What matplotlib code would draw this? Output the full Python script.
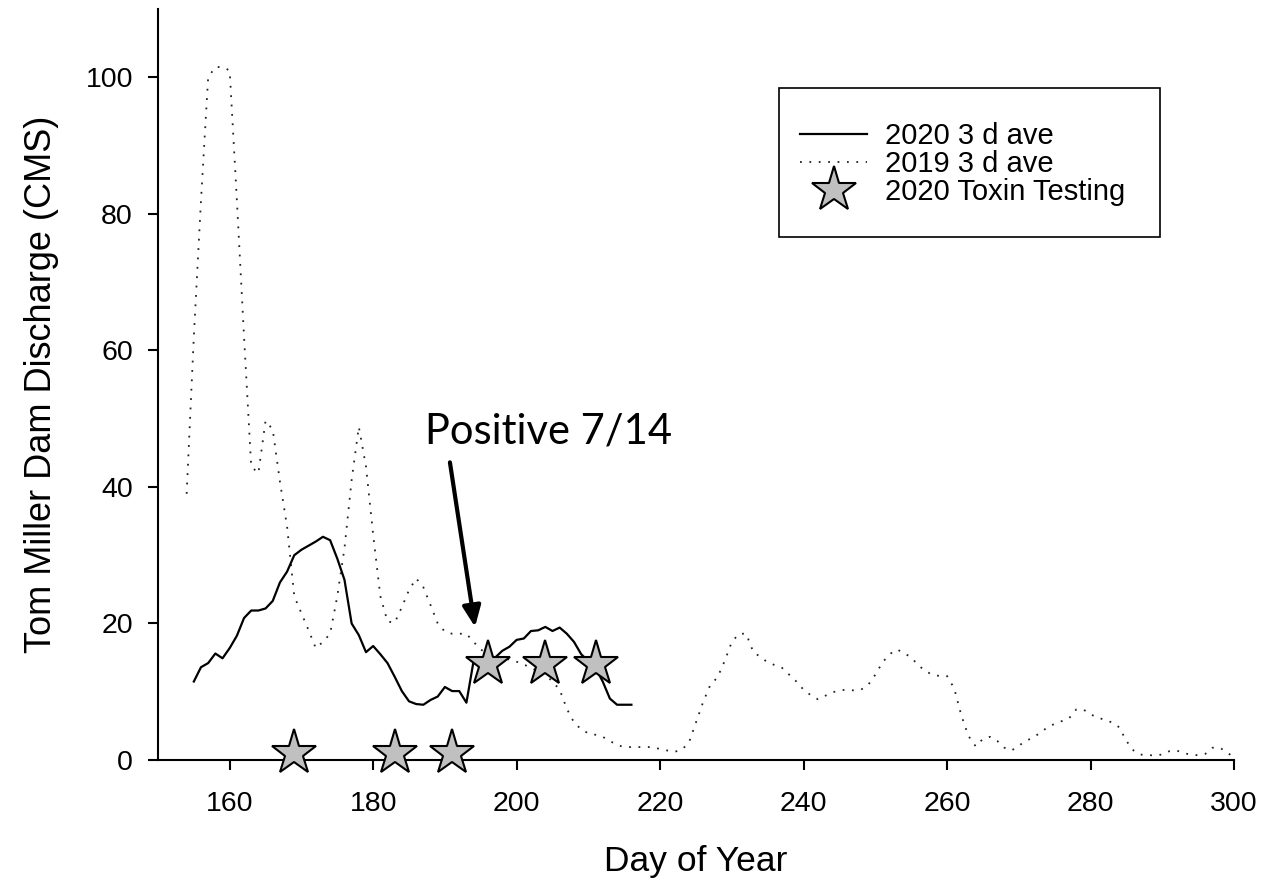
import matplotlib.pyplot as plt
import numpy as np
from matplotlib.patches import Rectangle

plt.rcParams['font.family'] = ['Liberation Sans', 'DejaVu Sans']

# 3-day average discharge, 2020 (day 155-216)
days_2020 = np.arange(155, 217)
q_2020 = [11.5, 13.6, 14.2, 15.6, 14.9, 16.4, 18.2, 20.8, 21.9, 21.9,
          22.2, 23.3, 26.0, 27.6, 30.0, 30.8, 31.4, 32.0, 32.7, 32.2,
          29.5, 26.4, 20.0, 18.3, 15.8, 16.7, 15.5, 14.2, 12.2, 10.1,
          8.6, 8.2, 8.1, 8.8, 9.3, 10.7, 10.1, 10.1, 8.4, 14.5,
          14.5, 15.0, 15.0, 16.0, 16.6, 17.6, 17.8, 18.9, 19.0, 19.5,
          18.9, 19.4, 18.5, 17.3, 15.5, 14.5, 13.5, 11.5, 9.0, 8.1,
          8.1, 8.1]

# 3-day average discharge, 2019 (day 154-300)
days_2019 = np.arange(154, 301)
q_2019 = [39, 62, 82, 100, 101.5, 101.5, 101, 82, 62, 43,
          42, 49.7, 48.4, 40.8, 34.2, 24, 21.5, 19, 16.4, 17.3,
          18.5, 24, 31, 41, 48.8, 43, 33, 24, 20.3, 20.1,
          22.4, 24.9, 26.6, 25.3, 22.7, 20.0, 18.8, 18.5, 18.5, 18.5,
          17.3, 16.2, 15.5, 15.2, 15.0, 14.7, 14.4, 14.0, 13.5, 13.0,
          12.5, 11.5, 10.3, 7.5, 5.5, 4.5, 3.9, 3.7, 3.4, 2.8,
          2.2, 1.9, 1.9, 1.9, 1.9, 1.9, 1.6, 1.4, 1.2, 1.5,
          2.5, 5.5, 8.5, 11, 12.1, 14.5, 17.3, 18.5, 18.5, 15.8,
          15.1, 14.3, 13.9, 13.5, 12.5, 11.5, 10.3, 9.5, 8.9, 9.4,
          9.9, 10.2, 10.3, 10.2, 10.3, 11.0, 12.5, 14.3, 15.5, 16.2,
          15.7, 15.0, 13.9, 13.0, 12.5, 12.3, 12.3, 10.5, 6.5, 3.5,
          2.0, 3.1, 3.4, 2.8, 1.8, 1.4, 2.1, 2.8, 3.3, 4.0,
          4.8, 5.3, 5.7, 6.1, 7.4, 7.4, 6.7, 6.2, 5.9, 5.5,
          4.8, 2.8, 1.4, 0.8, 0.7, 0.7, 0.8, 1.3, 1.4, 1.0,
          0.8, 0.7, 0.9, 1.8, 1.8, 1.2, 0.3]

# toxin testing dates
toxin_days = [169, 183, 191, 196, 204, 211]
toxin_q = [1, 1, 1, 14, 14, 14]

fig = plt.figure(figsize=(12.79, 8.85), dpi=100)
ax = fig.add_axes([0.1235, 0.1412, 0.8413, 0.8486])

ax.plot(days_2020, q_2020, color='black', lw=1.6, label='2020 3 d ave', zorder=3)
ax.plot(days_2019, q_2019, color='#222222', lw=1.3, linestyle=(0, (1, 4.2)),
        label='2019 3 d ave', zorder=2)
ax.plot(toxin_days, toxin_q, linestyle='none', marker='*', ms=34,
        mfc='#c0c0c0', mec='black', mew=1.5, label='2020 Toxin Testing',
        clip_on=False, zorder=5)

ax.set_xlim(150, 300)
ax.set_ylim(0, 110)
ax.set_xticks(range(160, 301, 20))
ax.set_yticks(range(0, 101, 20))
for s in ['top', 'right']:
    ax.spines[s].set_visible(False)
for s in ['left', 'bottom']:
    ax.spines[s].set_linewidth(1.5)
ax.tick_params(direction='out', length=7.5, width=1.5, labelsize=20.5)
ax.tick_params(axis='x', pad=15)
ax.tick_params(axis='y', pad=10.5)

ax.set_xlabel('Day of Year', fontsize=25.5, labelpad=20)
ax.set_ylabel('Tom Miller Dam Discharge (CMS)', fontsize=26, labelpad=19)

# annotation
ax.text(204.4, 46.4, 'Positive 7/14', fontsize=30, family=['Lato', 'DejaVu Sans'],
        ha='center', va='baseline')
ax.annotate('', xy=(194.2, 19.5), xytext=(190.7, 43.6),
            arrowprops=dict(arrowstyle='-|>,head_length=0.5,head_width=0.22',
                            lw=3, color='black', mutation_scale=25,
                            shrinkA=0, shrinkB=0))

# legend
ax.legend(loc='upper left', bbox_to_anchor=(0.5967, 0.849), frameon=False,
          fontsize=21, handlelength=2.3, handletextpad=0.6, labelspacing=0.0,
          borderpad=0, borderaxespad=0)
ax.add_patch(Rectangle((0.5771, 0.6964), 0.3541, 0.1984, transform=ax.transAxes,
                       fill=False, edgecolor='black', lw=1.2, clip_on=False))

fig.savefig('out.png', dpi=100)
